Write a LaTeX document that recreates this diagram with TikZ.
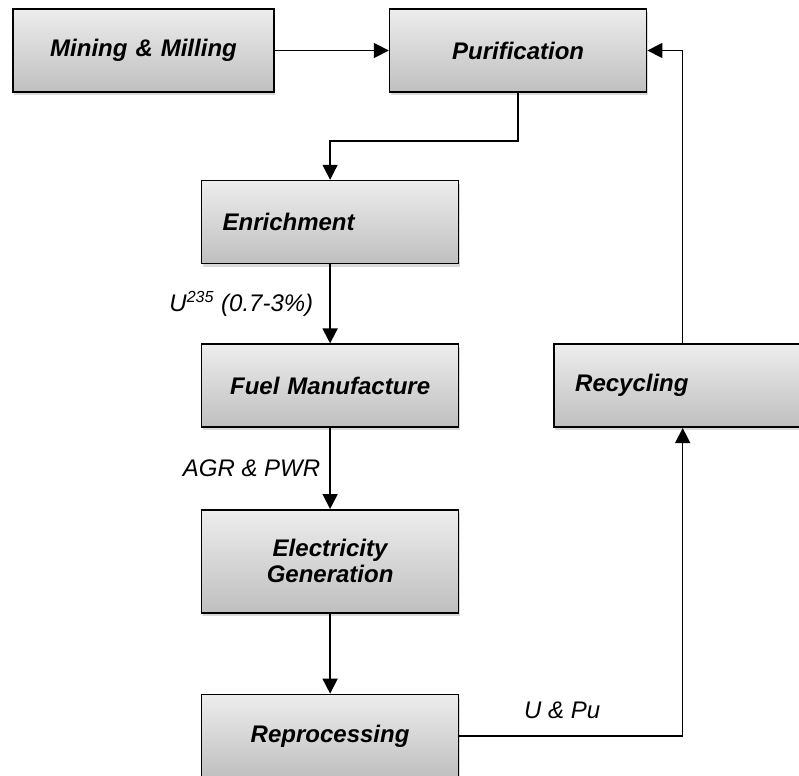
\documentclass[tikz,border=0pt]{standalone}
\usepackage{fontspec}
\setmainfont{Liberation Sans}
\usetikzlibrary{positioning, arrows.meta, shadows}

\begin{document}
\begin{tikzpicture}[node distance=39.5pt, >={Triangle[length=7.5pt, width=7.5pt]}, line width=0.9pt,
        stage/.style={draw, line width=0.8pt, top color=gray!14, bottom color=gray!50,
            drop shadow={shadow xshift=0.6pt, shadow yshift=-1.6pt, opacity=0.3},
            text width=107.5pt, inner xsep=10.5pt, inner ysep=0pt, minimum height=41.5pt,
            align=center, font=\fontsize{12}{13}\selectfont\bfseries\itshape},
        flow/.style={font=\fontsize{12}{14}\selectfont\itshape, inner sep=0pt}]
                \useasboundingbox (-71.75pt,25.25pt) rectangle (327.75pt,-362.75pt);

                \node[stage, minimum width=130.5pt] (mining) {Mining \& Milling};
                \node[stage] (purif) [right=57pt of mining] {Purification};
                \node[stage, align=left] (enrich) [below=43.5pt of purif, xshift=-94pt] {Enrichment};
                \node[stage] (fuel) [below=of enrich] {Fuel Manufacture};
                \node[stage, minimum height=51.5pt] (elec) [below=40.5pt of fuel] {Electricity\\Generation};
                \node[stage] (repro) [below=40pt of elec] {Reprocessing};
                \node[stage, align=left] (recyc) [right=47pt of fuel] {Recycling};

                \path[->]
                (mining) edge (purif)
                (enrich) edge node[flow, left=8pt] {U\textsuperscript{235} (0.7-3\%)} (fuel)
                (fuel) edge node[flow, left=4.5pt] {AGR \& PWR} (elec)
                (elec) edge (repro);

                \draw[->, line width=0.7pt] (purif.south) -- ++(0,-24pt) -| (enrich.north);
                \draw[->, line width=0.7pt] (repro.east) -| node[flow, pos=0.23, above=8pt] {U \& Pu} (recyc.south);
                \draw[->, line width=0.7pt] (recyc.north) |- (purif.east);
            \end{tikzpicture}
\end{document}
